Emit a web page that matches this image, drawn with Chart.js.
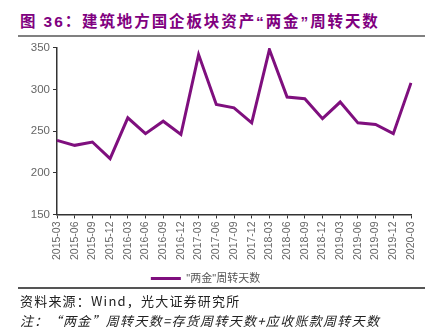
<!DOCTYPE html>
<html>
<head>
<meta charset="utf-8">
<script src="https://cdn.jsdelivr.net/npm/chart.js@4"></script>
<style>
  body { margin: 0; width: 433px; height: 331px; background: #fff; position: relative; overflow: hidden; font-family: "Liberation Sans", "Noto Sans CJK SC", sans-serif; }
  #title { position: absolute; left: 20px; top: 9px; font-size: 15.5px; font-weight: bold; color: #800080; font-family: "Liberation Sans", "Noto Sans CJK SC"; letter-spacing: 1.9px; }
  .rule { position: absolute; left: 18px; width: 407px; height: 2px; background: #808080; }
  #wrap { position: absolute; left: 0; top: 38px; width: 433px; height: 256px; }
  #src { position: absolute; left: 20px; top: 291px; font-size: 13px; color: #222; font-family: "Noto Sans CJK SC"; letter-spacing: 1.2px; }
  #note { position: absolute; left: 20px; top: 311px; font-size: 13px; color: #222; font-style: italic; font-family: "Noto Sans CJK SC"; letter-spacing: 1.3px; }
</style>
</head>
<body>
<div id="title">图 36：建筑地方国企板块资产“两金”周转天数</div>
<div class="rule" style="top:35px"></div>
<div id="wrap"><canvas id="chart"></canvas></div>
<div class="rule" style="top:287px; height:1.5px; background:#555"></div>
<div id="src">资料来源：Wind，光大证券研究所</div>
<div id="note">注：“两金”周转天数=存货周转天数+应收账款周转天数</div>
<script>
// quarter labels
const quarters = ['2015-03','2015-06','2015-09','2015-12','2016-03','2016-06','2016-09','2016-12',
  '2017-03','2017-06','2017-09','2017-12','2018-03','2018-06','2018-09','2018-12',
  '2019-03','2019-06','2019-09','2019-12','2020-03']
// "两金" turnover days
const turnoverDays = [239, 233, 237, 217, 266, 247, 262, 246,
  342, 282, 278, 260, 348, 291, 289, 265,
  285, 260, 258, 247, 308]
const yTicks = [150, 200, 250, 300, 350]

const cfg = {
  type: 'line',
  data: {
    labels: quarters,
    datasets: [{
      label: '"两金"周转天数',
      data: turnoverDays,
      borderColor: '#7f0f7e',
      backgroundColor: '#7f0f7e',
      borderWidth: 3,
      pointRadius: 0,
      tension: 0
    }]
  },
  options: {
    responsive: false,
    animation: false,
    layout: { padding: { top: 6, right: 22 } },
    plugins: {
      legend: {
        position: 'bottom',
        labels: {
          boxWidth: 30, boxHeight: 3, color: '#555',
          font: { family: 'Liberation Sans, Noto Sans CJK SC', size: 11 },
          generateLabels: (chart) => Chart.defaults.plugins.legend.labels.generateLabels(chart)
            .map(l => Object.assign(l, { lineWidth: 0 }))
        }
      },
      tooltip: { enabled: false }
    },
    scales: {
      x: {
        offset: false,
        grid: { drawOnChartArea: false, tickLength: 4, color: '#333' },
        border: { color: '#333', width: 1.5 },
        ticks: { maxRotation: 90, minRotation: 90, color: '#666', autoSkip: false,
          font: { family: 'Liberation Sans', size: 10.5 } }
      },
      y: {
        min: 150, max: 350,
        afterBuildTicks: (ax) => { ax.ticks = yTicks.map(v => ({ value: v })) },
        afterFit: (ax) => { ax.width = 57 },
        grid: { drawOnChartArea: false, tickLength: 4, color: '#333' },
        border: { color: '#333', width: 1.5 },
        ticks: { color: '#666', font: { family: 'Liberation Sans', size: 11.5 } }
      }
    }
  }
}
const c = document.getElementById('chart')
c.width = 433; c.height = 256
new Chart(c, cfg)
</script>
</body>
</html>
